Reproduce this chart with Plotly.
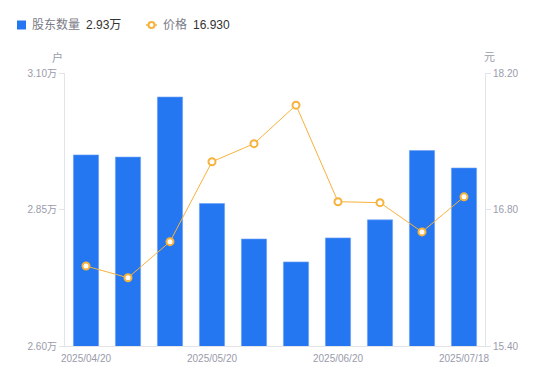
import plotly.graph_objects as go

dates = ["2025/04/20", "2025/04/30", "2025/05/10", "2025/05/20", "2025/05/31",
         "2025/06/10", "2025/06/20", "2025/06/30", "2025/07/10", "2025/07/18"]
holders = [2.950, 2.946, 3.056, 2.861, 2.796, 2.754, 2.798, 2.831, 2.958, 2.926]
price = [16.22, 16.10, 16.47, 17.29, 17.475, 17.87, 16.88, 16.87, 16.57, 16.93]
x_tick_labels = ["2025/04/20", "2025/05/20", "2025/06/20", "2025/07/18"]
left_ticks = [2.60, 2.85, 3.10]
left_tick_text = ["2.60万", "2.85万", "3.10万"]
right_ticks = [15.40, 16.80, 18.20]
right_tick_text = ["15.40", "16.80", "18.20"]

BLUE = "#2577F1"
ORANGE = "#F7B23B"
TICK = "#9A9BAA"
AXIS = "#E3E4E8"
FONT = "Liberation Sans, Noto Sans CJK SC, sans-serif"

OFF = 8  # page body margin
W, H = 550, 381
L, R, T, B = 65 - OFF, 65 + OFF, 73 - OFF, 35 + OFF
pw, ph = W - L - R, H - T - B

def px(x):
    return (x - OFF - L) / pw

def py(y):
    return (H - B - (y - OFF)) / ph

fig = go.Figure()
fig.add_trace(go.Bar(
    x=dates, y=holders, width=0.6, marker=dict(color=BLUE, line=dict(color="#6FA3F5", width=0.6)),
    name="股东数量", yaxis="y",
))
fig.add_trace(go.Scatter(
    x=dates, y=price, mode="lines+markers", yaxis="y2", name="价格",
    line=dict(color=ORANGE, width=1),
    marker=dict(symbol="circle", size=7, color="white", line=dict(color=ORANGE, width=2)),
))

fig.update_layout(
    width=W, height=H, margin=dict(l=L, r=R, t=T, b=B),
    paper_bgcolor="white", plot_bgcolor="white",
    showlegend=False,
    font=dict(family=FONT, size=10, color=TICK),
    xaxis=dict(
        type="category", range=[-0.5, 9.5],
        tickmode="array", tickvals=[dates[0], dates[3], dates[6], dates[9]], ticktext=x_tick_labels,
        showgrid=False, showline=True, linecolor=AXIS, linewidth=1, ticks="", zeroline=False,
        tickfont=dict(size=10, color=TICK), ticklabelstandoff=3,
    ),
    yaxis=dict(
        range=[2.60, 3.10], tickmode="array", tickvals=left_ticks, ticktext=left_tick_text,
        showgrid=False, showline=True, linecolor=AXIS, linewidth=1, zeroline=False,
        ticks="outside", ticklen=5, tickcolor=AXIS, tickfont=dict(size=10, color=TICK),
    ),
    yaxis2=dict(
        range=[15.40, 18.20], tickmode="array", tickvals=right_ticks, ticktext=right_tick_text,
        overlaying="y", side="right",
        showgrid=False, showline=True, linecolor=AXIS, linewidth=1, zeroline=False,
        ticks="outside", ticklen=5, tickcolor=AXIS, tickfont=dict(size=10, color=TICK),
    ),
)

shapes = [
    dict(type="rect", xref="paper", yref="paper", x0=px(17), x1=px(26), y0=py(29.5), y1=py(20.5),
         fillcolor=BLUE, line=dict(width=0)),
    dict(type="line", xref="paper", yref="paper", x0=px(146), x1=px(157), y0=py(25), y1=py(25),
         line=dict(color=ORANGE, width=1.5)),
    dict(type="circle", xref="paper", yref="paper", x0=px(148.5), x1=px(154.5), y0=py(28), y1=py(22),
         fillcolor="white", line=dict(color=ORANGE, width=2)),
]
fig.update_layout(shapes=shapes)

annotations = [
    dict(text="股东数量", x=px(30), y=py(25), xanchor="left", yanchor="middle",
         font=dict(size=12, color="#7A7B86")),
    dict(text="2.93万", x=px(84), y=py(25), xanchor="left", yanchor="middle",
         font=dict(size=12, color="#333333")),
    dict(text="价格", x=px(161), y=py(25), xanchor="left", yanchor="middle",
         font=dict(size=12, color="#7A7B86")),
    dict(text="16.930", x=px(191), y=py(25), xanchor="left", yanchor="middle",
         font=dict(size=12, color="#333333")),
    dict(text="户", x=px(57), y=py(57), xanchor="center", yanchor="middle",
         font=dict(size=11, color=TICK)),
    dict(text="元", x=px(489), y=py(57), xanchor="center", yanchor="middle",
         font=dict(size=11, color=TICK)),
]
for a in annotations:
    a.update(xref="paper", yref="paper", showarrow=False)
fig.update_layout(annotations=annotations)

fig.write_html("out.html")
